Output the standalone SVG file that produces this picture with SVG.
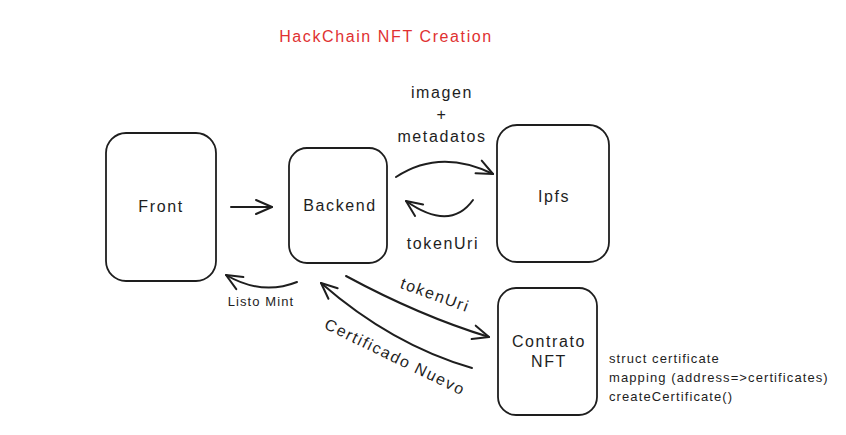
<svg xmlns="http://www.w3.org/2000/svg" width="846" height="435" viewBox="0 0 846 435">
<style>
.box{fill:#fff;stroke:#1e1e1e;stroke-width:1.8}
.lbl{font-family:"Liberation Sans",Arial,sans-serif;font-size:16px;fill:#1e1e1e;text-anchor:middle;letter-spacing:1.6px}
.sm{font-family:"Liberation Sans",Arial,sans-serif;font-size:13px;fill:#1e1e1e;letter-spacing:1.1px}
.con{fill:none;stroke:#1e1e1e;stroke-width:2;stroke-linecap:round}
</style>
<defs>
<marker id="ah" viewBox="0 0 20 20" refX="18" refY="10" markerWidth="20" markerHeight="20" markerUnits="userSpaceOnUse" orient="auto">
<path d="M2,3 L18,10 L2,17" fill="none" stroke="#1e1e1e" stroke-width="2" stroke-linecap="round" stroke-linejoin="round"/>
</marker>
</defs>
<rect width="846" height="435" fill="#fff"/>
<text x="386" y="42" class="lbl" style="fill:#e03131">HackChain NFT Creation</text>
<g id="front"><rect class="box" x="106" y="133" width="110" height="148" rx="20"/><text x="161" y="212" class="lbl">Front</text></g>
<g id="backend"><rect class="box" x="289" y="148" width="98" height="115" rx="18"/><text x="340" y="211" class="lbl">Backend</text></g>
<g id="ipfs"><rect class="box" x="497" y="125" width="112" height="137" rx="20"/><text x="554" y="202" class="lbl">Ipfs</text></g>
<g id="contrato"><rect class="box" x="498" y="288" width="99" height="127" rx="18"/><text x="549" y="347" class="lbl">Contrato</text><text x="549" y="367" class="lbl">NFT</text></g>
<g id="connectors">
<path class="con" d="M231,207 L272,207" marker-end="url(#ah)"/>
<path class="con" d="M396,177 Q440,148 493,174" marker-end="url(#ah)"/>
<path class="con" d="M473,200 Q450,232 406,201" marker-end="url(#ah)"/>
<path class="con" d="M297,282 Q262,296 226,275" marker-end="url(#ah)"/>
<path class="con" d="M346,276 Q420,316 489,337" marker-end="url(#ah)"/>
<path class="con" d="M472,368 Q392,345 321,283" marker-end="url(#ah)"/>
</g>
<g id="labels">
<text x="442" y="98" class="lbl">imagen</text>
<text x="442" y="120" class="lbl">+</text>
<text x="442" y="142" class="lbl">metadatos</text>
<text x="443" y="249" class="lbl">tokenUri</text>
<text x="261" y="306" class="sm" text-anchor="middle">Listo Mint</text>
<text x="435" y="300" class="lbl" transform="rotate(20 434 295)">tokenUri</text>
<text x="395" y="362" class="lbl" transform="rotate(26 394 357)">Certificado Nuevo</text>
<text x="609" y="363" class="sm">struct certificate</text>
<text x="609" y="382" class="sm">mapping (address=&gt;certificates)</text>
<text x="609" y="401" class="sm">createCertificate()</text>
</g>
</svg>
